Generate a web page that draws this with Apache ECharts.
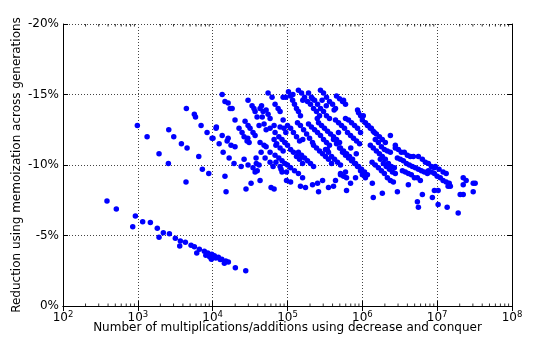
<!DOCTYPE html>
<html>
<head>
<meta charset="utf-8">
<script src="https://cdn.jsdelivr.net/npm/echarts@6/dist/echarts.min.js"></script>
<style>
  html, body { margin: 0; padding: 0; background: #fff; }
  #chart { width: 537px; height: 347px; }
</style>
</head>
<body>
<div id="chart"></div>
<script>
// x: multiplications/additions (decrease and conquer), y: reduction in percent
const lowerLine = [
  [387, -7.45], [516, -6.88], [855, -5.62], [927, -6.38], [1160, -5.98], [1470, -5.93],
  [1820, -5.51], [1920, -4.87], [2190, -5.2], [2640, -5.13], [3170, -4.8], [3630, -4.26],
  [3700, -4.61], [4320, -4.52], [5140, -4.3], [5700, -4.2], [6130, -3.76], [6640, -4.02],
  [7740, -3.88], [8100, -3.6], [8590, -3.76], [9100, -3.5], [9610, -3.31], [9720, -3.67],
  [10540, -3.57], [11000, -3.4], [11920, -3.45], [12600, -3.3], [13240, -3.31], [14330, -3.03],
  [14960, -3.19], [16220, -3.12], [20100, -2.72], [27670, -2.5]
];

const sparseLeft = [
  [985, -12.8], [1330, -12.0], [1920, -10.8], [2560, -10.1], [2590, -12.5], [3020, -12.0],
  [3820, -11.5], [4550, -11.2], [4450, -14.0], [5690, -13.6], [5900, -13.4], [7000, -12.8],
  [8420, -12.3], [9820, -11.9], [6520, -10.6], [7280, -9.7], [8870, -9.4], [4400, -8.8],
  [11200, -12.7]
];

const cloud1e4 = [
  [13400, -15.0], [14600, -14.5], [16100, -14.4], [17100, -14.0], [18200, -14.0], [19900, -13.2],
  [11100, -12.6], [10100, -11.9], [13400, -12.1], [16100, -11.9], [15600, -11.7], [12200, -11.5],
  [17600, -11.4], [19900, -11.3], [13800, -10.9], [16600, -10.5], [19300, -10.1], [24000, -9.9],
  [26300, -10.4], [29700, -10.0], [34600, -9.8], [36900, -9.5], [41700, -10.0], [38000, -10.5],
  [44400, -10.9], [50200, -10.5], [58500, -10.2], [64200, -9.9], [14600, -9.2], [15100, -8.1],
  [27900, -8.3], [32600, -8.7], [43000, -8.9], [60300, -8.4], [66200, -8.3], [29700, -14.6],
  [33600, -14.2], [35600, -14.0], [36900, -13.8], [39200, -13.4], [27100, -13.1], [29700, -12.8],
  [31600, -12.6], [34600, -12.3], [36900, -12.1], [22500, -12.6], [24700, -12.3], [26300, -12.0],
  [28800, -11.7], [30700, -11.6], [43000, -14.0], [47200, -13.8], [46000, -13.4], [51800, -13.9],
  [55000, -13.6], [58500, -13.3], [55000, -15.1], [41700, -12.8], [48600, -12.9], [51800, -12.5],
  [58500, -12.6], [66200, -12.8], [43000, -11.6], [48600, -11.4], [51800, -11.3], [62200, -14.8],
  [68200, -14.3], [74900, -14.0], [79600, -13.8], [87400, -14.8], [95000, -14.8], [87400, -13.2],
  [79600, -12.7], [89700, -12.6], [95000, -12.3], [68200, -12.3], [76600, -12.0], [84500, -11.8],
  [92000, -11.6], [66200, -11.8], [71700, -11.5], [79600, -11.2], [87400, -11.0], [68200, -10.7],
  [76600, -10.5], [84500, -10.3], [92000, -10.1], [70000, -10.2], [79600, -9.9], [84500, -9.5],
  [45000, -14.2], [29500, -11.9], [58500, -10.9], [70000, -11.4], [38300, -10.1], [39400, -9.6],
  [82000, -9.7], [97000, -9.5], [97000, -8.9]
];

const cloud1e5 = [
  [103000, -15.2], [110000, -14.9], [117000, -14.6], [124000, -14.3], [132000, -14.0], [140000, -13.8], [149000, -13.5],
  [140000, -15.3], [154000, -15.1], [169000, -14.8], [185000, -14.5], [203000, -14.3], [223000, -14.0], [244000, -13.8], [268000, -13.5],
  [191000, -15.1], [209000, -14.8], [230000, -14.6], [252000, -14.3], [276000, -14.0], [303000, -13.8], [332000, -13.5], [364000, -13.3],
  [276000, -15.3], [303000, -15.1], [332000, -14.8], [364000, -14.5], [400000, -14.3], [438000, -14.0],
  [452000, -14.9], [496000, -14.7], [544000, -14.5], [596000, -14.3], [561000, -14.6], [863000, -13.9], [890000, -13.7], [950000, -13.5],
  [100000, -12.8], [110000, -12.6], [120000, -12.3], [132000, -12.0], [145000, -11.7],
  [136000, -13.0], [149000, -12.8], [164000, -12.5], [180000, -12.2], [197000, -11.9], [216000, -11.6],
  [191000, -12.9], [209000, -12.7], [230000, -12.5], [252000, -12.3], [276000, -12.1], [303000, -11.8], [332000, -11.6], [364000, -11.4],
  [260000, -13.0], [285000, -12.8], [312000, -12.6], [343000, -12.4], [376000, -12.2], [412000, -12.0], [452000, -11.8], [496000, -11.6],
  [438000, -13.2], [481000, -13.0], [527000, -12.8], [578000, -12.6], [634000, -12.3], [696000, -12.1], [763000, -11.9], [837000, -11.7], [918000, -11.5],
  [596000, -13.3], [654000, -13.2], [717000, -13.0], [787000, -12.8], [863000, -12.6], [946000, -12.3],
  [100000, -11.4], [110000, -11.1], [120000, -10.9], [132000, -10.6], [145000, -10.4], [159000, -10.1],
  [140000, -10.9], [154000, -10.7], [169000, -10.5], [185000, -10.3], [203000, -10.1], [223000, -9.9],
  [223000, -11.4], [244000, -11.2], [268000, -11.0], [294000, -10.8], [322000, -10.6], [353000, -10.4], [388000, -10.1],
  [322000, -11.1], [353000, -10.9], [388000, -10.6], [425000, -10.4], [466000, -10.2], [511000, -10.0],
  [412000, -11.8], [452000, -11.5], [496000, -11.2], [544000, -10.9], [596000, -10.7], [654000, -10.5], [717000, -10.3], [787000, -10.1], [863000, -9.9], [946000, -9.6],
  [511000, -11.2], [561000, -11.0], [615000, -10.8], [674000, -10.6], [740000, -10.4], [811000, -10.1], [890000, -9.9], [976000, -9.7],
  [100000, -10.0], [110000, -9.8], [124000, -9.6], [140000, -9.4], [159000, -9.1],
  [110000, -8.8], [149000, -8.5], [174000, -8.4], [216000, -8.6], [252000, -8.7], [260000, -8.1], [294000, -8.9],
  [353000, -8.4], [412000, -8.5], [438000, -8.9], [511000, -9.3], [596000, -9.5], [615000, -8.2], [696000, -8.7], [811000, -9.1],
  [511000, -9.4], [561000, -9.2], [615000, -9.1],
  [118000, -15.0], [160000, -14.6], [215000, -14.7], [290000, -14.6], [330000, -14.2], [420000, -13.9],
  [250000, -13.3], [480000, -12.3], [160000, -11.8], [340000, -11.1], [700000, -11.2], [830000, -10.8]
];

const cloud1e6 = [
  [1030000, -13.5], [1070000, -9.5], [1170000, -9.3], [1000000, -9.3], [1100000, -9.1], [1360000, -8.7], [1400000, -7.7], [1850000, -8.0],
  [1000000, -13.2], [1100000, -13.0], [1200000, -12.8], [1320000, -12.6], [1450000, -12.3],
  [1170000, -12.8], [1280000, -12.6], [1400000, -12.4], [1540000, -12.2], [1690000, -12.0], [1850000, -11.8], [2030000, -11.6],
  [1280000, -11.4], [1400000, -11.2], [1540000, -11.0], [1690000, -10.8], [1850000, -10.6], [2030000, -10.4], [2230000, -10.1], [2440000, -9.9], [2680000, -9.8],
  [1490000, -11.8], [1640000, -11.6], [1800000, -11.3], [1970000, -11.1], [2160000, -11.0], [2370000, -10.9],
  [2370000, -12.1], [2760000, -11.4],
  [1740000, -10.4], [1910000, -10.1], [2090000, -9.9], [2300000, -9.7], [2520000, -9.5], [2760000, -9.4],
  [2760000, -11.2], [3030000, -11.1], [3320000, -10.9], [3640000, -10.9], [4000000, -10.7], [4380000, -10.6], [4810000, -10.6],
  [2940000, -10.5], [3220000, -10.4], [3530000, -10.3], [3880000, -10.1], [4250000, -10.0], [4660000, -9.9], [5110000, -9.8], [5610000, -9.7], [6150000, -9.6], [6740000, -9.5], [7400000, -9.4],
  [3430000, -9.6], [3760000, -9.5], [4120000, -9.4], [4520000, -9.3], [4960000, -9.1], [5440000, -9.1], [5960000, -8.9],
  [5610000, -10.6], [6340000, -10.4], [6960000, -10.2], [7630000, -10.1], [8370000, -9.9], [9180000, -9.8],
  [7630000, -9.6], [8370000, -9.5], [9180000, -9.4], [10000000, -9.2], [11000000, -9.1], [12000000, -8.9], [13200000, -8.8], [14500000, -8.7],
  [9460000, -9.9], [10600000, -9.7], [12000000, -9.5], [13200000, -9.4],
  [1350000, -10.2], [1490000, -10.0], [1640000, -9.8], [1800000, -9.6], [1970000, -9.4], [2160000, -9.1], [2370000, -8.9], [2600000, -8.8],
  [2940000, -8.1], [4120000, -8.6], [6340000, -7.9], [8630000, -7.7], [9180000, -8.2], [10300000, -8.2], [5440000, -7.4], [5610000, -7.0],
  [10300000, -7.2], [13600000, -7.0], [19100000, -6.6], [20300000, -7.9], [22300000, -7.9], [22300000, -8.6],
  [22300000, -9.1], [24400000, -8.9], [30300000, -8.7], [32200000, -8.7], [30300000, -8.1], [14000000, -8.5], [15000000, -8.5]
];

const xTickLabels = [100, 1e3, 1e4, 1e5, 1e6, 1e7, 1e8];
const yTickLabels = [0, -5, -10, -15, -20];

const font = 'DejaVu Sans';
const black = '#000';
const dotted = { color: '#444', width: 1, type: [1, 2] };
const yMin = yTickLabels[yTickLabels.length - 1];
const yMax = yTickLabels[0];

// log minor tick marks (2..9 in each decade), placed on the top and bottom frame
const minorBottom = [];
const minorTop = [];
for (let d = 2; d < 8; d++) {
  for (let m = 2; m <= 9; m++) {
    minorBottom.push([m * Math.pow(10, d), yMax]);
    minorTop.push([m * Math.pow(10, d), yMin]);
  }
}

const chart = echarts.init(document.getElementById('chart'), null, { renderer: 'canvas' });

const dotStyle = (data) => ({
  type: 'scatter',
  data: data,
  symbol: 'circle',
  symbolSize: 5.5,
  itemStyle: { color: '#0000ff', opacity: 1 },
  z: 3
});

const tickStyle = (data, dy) => ({
  type: 'scatter',
  data: data,
  symbol: 'rect',
  symbolSize: [1, 2.5],
  symbolOffset: [0, dy],
  itemStyle: { color: black },
  silent: true,
  clip: false,
  z: 4
});

chart.setOption({
  animation: false,
  backgroundColor: '#fff',
  grid: { left: 63, right: 25, top: 24, bottom: 41, containLabel: false },
  xAxis: [
    {
      type: 'log',
      logBase: 10,
      min: xTickLabels[0],
      max: xTickLabels[xTickLabels.length - 1],
      splitNumber: 6,
      position: 'bottom',
      name: 'Number of multiplications/additions using decrease and conquer',
      nameLocation: 'middle',
      nameGap: 16,
      nameMoveOverlap: false,
      nameTextStyle: { color: black, fontSize: 12, fontFamily: font },
      axisLine: { show: true, lineStyle: { color: black, width: 1 } },
      axisTick: { show: true, inside: true, length: 5, lineStyle: { color: black, width: 1 } },
      axisLabel: {
        margin: 4,
        color: black,
        formatter: (v) => '{b|10}{e|' + Math.round(Math.log10(v)) + '}',
        rich: {
          b: { fontSize: 12, fontFamily: font, color: black },
          e: { fontSize: 8.5, fontFamily: font, color: black, verticalAlign: 'top', padding: [0, 0, 6, 0] }
        }
      },
      splitLine: { show: true, lineStyle: dotted }
    },
    {
      type: 'log',
      logBase: 10,
      min: xTickLabels[0],
      max: xTickLabels[xTickLabels.length - 1],
      splitNumber: 6,
      position: 'top',
      axisLine: { show: true, lineStyle: { color: black, width: 1 } },
      axisTick: { show: true, inside: true, length: 5, lineStyle: { color: black, width: 1 } },
      axisLabel: { show: false },
      splitLine: { show: false }
    }
  ],
  yAxis: [
    {
      type: 'value',
      min: yMin,
      max: yMax,
      interval: 5,
      inverse: true,
      position: 'left',
      name: 'Reduction using memoization across generations',
      nameLocation: 'middle',
      nameGap: 40,
      nameMoveOverlap: false,
      nameRotate: 90,
      nameTextStyle: { color: black, fontSize: 12, fontFamily: font },
      axisLine: { show: true, lineStyle: { color: black, width: 1 } },
      axisTick: { show: true, inside: true, length: 5, lineStyle: { color: black, width: 1 } },
      axisLabel: { margin: 4, color: black, fontSize: 12, fontFamily: font, formatter: (v) => v + '%' },
      splitLine: { show: true, lineStyle: dotted }
    },
    {
      type: 'value',
      min: yMin,
      max: yMax,
      interval: 5,
      inverse: true,
      position: 'right',
      axisLine: { show: true, lineStyle: { color: black, width: 1 } },
      axisTick: { show: true, inside: true, length: 5, lineStyle: { color: black, width: 1 } },
      axisLabel: { show: false },
      splitLine: { show: false }
    }
  ],
  series: [
    dotStyle(lowerLine),
    dotStyle(sparseLeft),
    dotStyle(cloud1e4),
    dotStyle(cloud1e5),
    dotStyle(cloud1e6),
    tickStyle(minorBottom, -1.25),
    tickStyle(minorTop, 1.25)
  ]
});
</script>
</body>
</html>
